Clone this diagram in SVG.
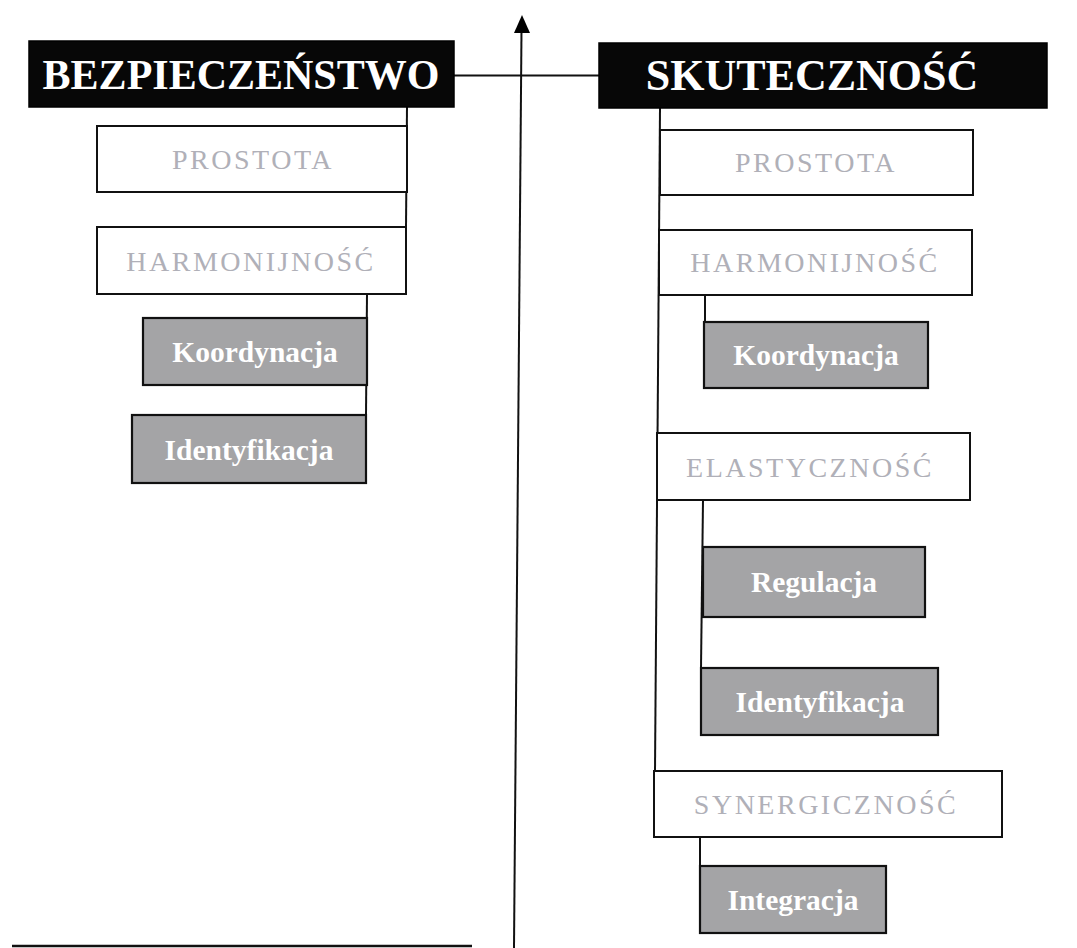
<svg xmlns="http://www.w3.org/2000/svg" width="1077" height="948" viewBox="0 0 1077 948">
  <defs>
    <style>
      .head { fill: #070707; stroke: #000; stroke-width: 1.5; }
      .head-t { fill: #fff; font-family: "Liberation Serif", "Times New Roman", serif; font-weight: bold; font-size: 42px; text-anchor: middle; }
      .plain { fill: #fff; stroke: #111; stroke-width: 2; }
      .plain-t { fill: #b0b0b8; font-family: "Liberation Serif", "Times New Roman", serif; font-size: 28px; letter-spacing: 2.5px; text-anchor: middle; }
      .shade { fill: #a4a4a6; stroke: #111; stroke-width: 2.2; }
      .shade-t { fill: #fff; font-family: "Liberation Serif", "Times New Roman", serif; font-weight: bold; font-size: 29.5px; text-anchor: middle; }
      .link { fill: none; stroke: #111; stroke-width: 2; }
    </style>
  </defs>

  <rect width="1077" height="948" fill="#fff"/>

  <!-- connectors -->
  <g id="connectors">
    <!-- vertical axis with its arrowhead -->
    <line class="link" x1="514" y1="948" x2="521.5" y2="30"/>
    <polygon points="522,15 530,33 514,33" fill="#000"/>
    <!-- baseline -->
    <line x1="12" y1="946" x2="472" y2="946" stroke="#111" stroke-width="2.5"/>
    <!-- link between the two headers -->
    <line class="link" x1="454" y1="75.5" x2="599" y2="75.5"/>
    <!-- left branch -->
    <line class="link" x1="407" y1="107" x2="406" y2="227"/>
    <line class="link" x1="367" y1="294" x2="366" y2="415"/>
    <!-- right branch -->
    <line class="link" x1="660" y1="108" x2="655" y2="771"/>
    <line class="link" x1="705" y1="295" x2="705" y2="322"/>
    <line class="link" x1="703" y1="500" x2="701" y2="668"/>
    <line class="link" x1="700" y1="837" x2="700" y2="866"/>
  </g>

  <!-- left column -->
  <g id="bezpieczenstwo">
    <rect class="head" x="29" y="41" width="425" height="66"/>
    <text class="head-t" x="241" y="89">BEZPIECZEŃSTWO</text>
  </g>
  <g id="l-prostota">
    <rect class="plain" x="97" y="126" width="310" height="66"/>
    <text class="plain-t" x="253" y="169">PROSTOTA</text>
  </g>
  <g id="l-harmonijnosc">
    <rect class="plain" x="97" y="227" width="309" height="67"/>
    <text class="plain-t" x="251" y="271">HARMONIJNOŚĆ</text>
  </g>
  <g id="l-koordynacja">
    <rect class="shade" x="143" y="318" width="224" height="67"/>
    <text class="shade-t" x="255" y="362">Koordynacja</text>
  </g>
  <g id="l-identyfikacja">
    <rect class="shade" x="132" y="415" width="234" height="68"/>
    <text class="shade-t" x="249" y="460">Identyfikacja</text>
  </g>

  <!-- right column -->
  <g id="skutecznosc">
    <rect class="head" x="599" y="43" width="448" height="65"/>
    <text class="head-t" x="812" y="90" style="font-size:44px">SKUTECZNOŚĆ</text>
  </g>
  <g id="r-prostota">
    <rect class="plain" x="660" y="130" width="313" height="65"/>
    <text class="plain-t" x="816" y="172">PROSTOTA</text>
  </g>
  <g id="r-harmonijnosc">
    <rect class="plain" x="659" y="230" width="313" height="65"/>
    <text class="plain-t" x="815" y="272">HARMONIJNOŚĆ</text>
  </g>
  <g id="r-koordynacja">
    <rect class="shade" x="704" y="322" width="224" height="66"/>
    <text class="shade-t" x="816" y="365">Koordynacja</text>
  </g>
  <g id="r-elastycznosc">
    <rect class="plain" x="657" y="433" width="313" height="67"/>
    <text class="plain-t" x="810" y="477">ELASTYCZNOŚĆ</text>
  </g>
  <g id="r-regulacja">
    <rect class="shade" x="703" y="547" width="222" height="70"/>
    <text class="shade-t" x="814" y="592">Regulacja</text>
  </g>
  <g id="r-identyfikacja">
    <rect class="shade" x="701" y="668" width="237" height="67"/>
    <text class="shade-t" x="820" y="712">Identyfikacja</text>
  </g>
  <g id="r-synergicznosc">
    <rect class="plain" x="654" y="771" width="348" height="66"/>
    <text class="plain-t" x="826" y="814">SYNERGICZNOŚĆ</text>
  </g>
  <g id="r-integracja">
    <rect class="shade" x="700" y="866" width="186" height="67"/>
    <text class="shade-t" x="793" y="910">Integracja</text>
  </g>
</svg>
